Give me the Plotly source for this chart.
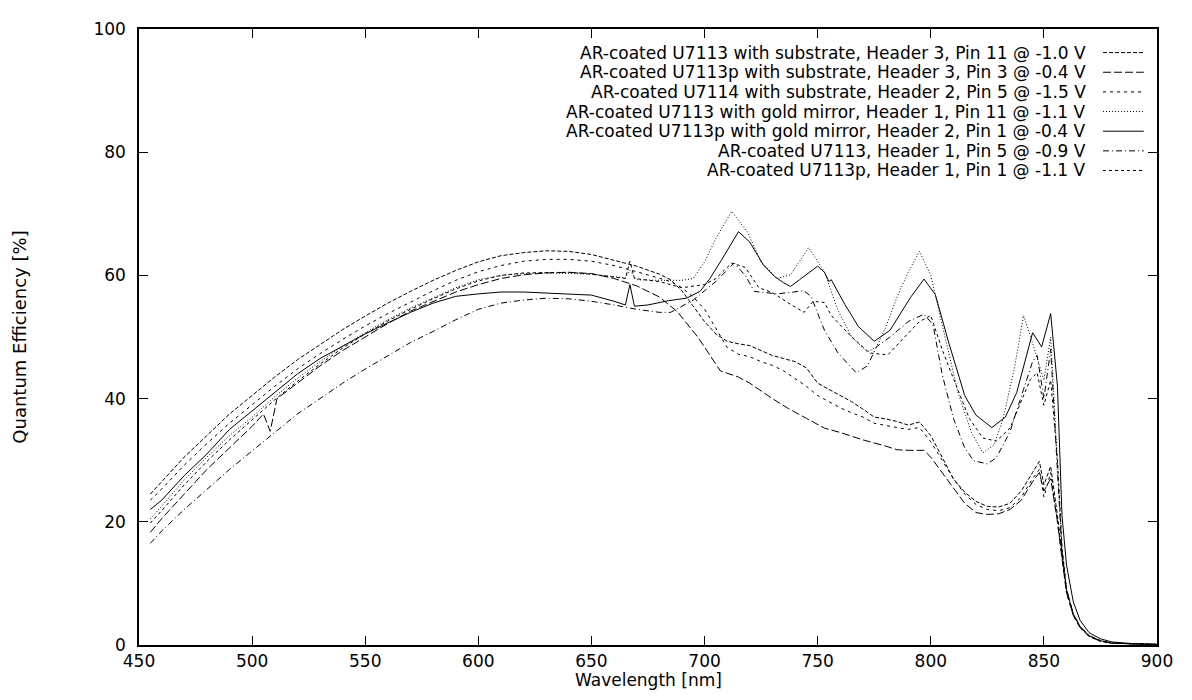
import plotly.graph_objects as go

# ---------------- data ----------------
names = [
    "AR-coated U7113 with substrate, Header 3, Pin 11 @ -1.0 V",
    "AR-coated U7113p with substrate, Header 3, Pin 3 @ -0.4 V",
    "AR-coated U7114 with substrate, Header 2, Pin 5 @ -1.5 V",
    "AR-coated U7113 with gold mirror, Header 1, Pin 11 @ -1.1 V",
    "AR-coated U7113p with gold mirror, Header 2, Pin 1 @ -0.4 V",
    "AR-coated U7113, Header 1, Pin 5 @ -0.9 V",
    "AR-coated U7113p, Header 1, Pin 1 @ -1.1 V",
]

wl_1 = [455, 460, 470, 480, 490, 500, 510, 520, 530, 540, 550, 560, 570, 580, 590, 600, 610, 620, 630, 640,
        650, 660, 670, 680, 685, 690, 695, 700, 705, 710, 715, 720, 725, 730, 735, 740, 745, 750, 755, 760,
        765, 770, 775, 780, 785, 790, 795, 800, 805, 810, 815, 820, 825, 830, 835, 840, 845, 848, 850, 853,
        856, 858, 860, 863, 866, 870, 875, 880, 890, 900]
qe_1 = [24.5, 26.5, 30.5, 34, 37.5, 40.5, 43.5, 46.3, 48.8, 51.2, 53.4, 55.5, 57.4, 59.2, 60.8, 62.2, 63.2, 63.7, 64, 63.9,
        63.4, 62.5, 61.5, 60.2, 59.3, 57.5, 55, 52.5, 50.5, 49.3, 48.9, 48.6, 47.8, 47, 46.5, 46, 45, 42.5, 41.5, 40.5,
        39.5, 38.3, 37, 36.7, 36.3, 35.7, 36.2, 34, 30.5, 27, 24.8, 23.3, 22.5, 22.4, 23, 25, 28, 29.8, 26, 29,
        21, 15, 9, 5, 3, 1.5, 0.7, 0.3, 0.15, 0.1]

wl_2 = [455, 460, 470, 480, 490, 500, 505, 508, 511, 520, 530, 540, 550, 560, 570, 580, 590, 600, 610, 620,
        630, 640, 650, 660, 670, 680, 688, 697, 707, 715, 720, 730, 737, 745, 753, 760, 770, 780, 785, 790,
        797, 800, 805, 810, 815, 820, 825, 830, 835, 840, 845, 848, 850, 853, 856, 858, 860, 863, 866, 870,
        875, 880, 890, 900]
qe_2 = [18.3, 20.5, 24.5, 28.5, 32, 35.5, 37.5, 34.7, 40, 42.5, 45.3, 47.8, 50, 52.2, 54.2, 55.8, 57.3, 58.5, 59.5, 60.1,
        60.4, 60.5, 60.3, 59.5, 58.3, 56.5, 54.1, 50, 44.5, 43.5, 42.5, 40, 38.4, 36.8, 35.2, 34.5, 33.3, 32.3, 31.7, 31.6,
        31.6, 30.5, 28, 25.5, 23, 21.5, 21.2, 21.3, 22, 23.5, 26.5, 28, 25, 27, 20, 14, 8.5, 4.8, 2.8, 1.4,
        0.6, 0.3, 0.15, 0.1]

wl_3 = list(wl_1)
qe_3 = [23.5, 25.3, 29.2, 32.7, 36, 39, 42, 44.8, 47.3, 49.6, 51.8, 53.8, 55.7, 57.5, 59.2, 60.6, 61.6, 62.3, 62.6, 62.6,
        62.3, 61.6, 60.6, 59.6, 59, 58, 56.5, 54.5, 51.5, 48.3, 47.2, 46.8, 46, 45.4, 44.5, 43.2, 42, 40.5, 39.5, 38.5,
        37.7, 37, 36, 35.6, 35.3, 35, 35.3, 33, 30, 27, 24.5, 22.8, 22, 21.8, 22.3, 24, 27, 28.5, 24, 28,
        20, 14, 8.5, 4.8, 2.8, 1.4, 0.6, 0.3, 0.15, 0.1]

wl_4 = [455, 460, 470, 480, 490, 500, 510, 520, 530, 540, 550, 560, 570, 580, 590, 600, 610, 620, 630, 640,
        650, 660, 665, 667, 670, 680, 690, 695, 700, 705, 712, 719, 725, 732, 738, 746, 753, 759, 765, 772,
        776, 780, 785, 790, 795, 800, 806, 812, 818, 823, 828, 832, 837, 841, 845, 848, 850, 853, 856, 858,
        860, 863, 866, 870, 875, 880, 890, 900]
qe_4 = [20.5, 22.5, 26.8, 30.5, 34, 37, 40.3, 43.3, 46, 48.5, 50.7, 52.8, 54.7, 56.4, 58, 59.3, 60, 60.3, 60.4, 60.3,
        60.2, 59.8, 59.6, 60.8, 59.3, 59.2, 59.2, 59.5, 62.2, 66, 70.4, 67, 62.2, 59.5, 60.1, 64.5, 60.6, 54.3, 50, 47.6,
        48.4, 51.5, 56.4, 60.5, 63.9, 60, 50.5, 41, 34.5, 31.2, 32.5, 36.8, 45, 53.5, 49, 45.5, 43, 50, 30, 16,
        9, 5, 3, 1.5, 0.7, 0.3, 0.15, 0.1]

wl_5 = [455, 460, 470, 480, 490, 500, 510, 520, 530, 540, 550, 560, 570, 580, 590, 600, 610, 620, 630, 640,
        650, 660, 665, 667, 669, 675, 684, 692, 698, 702, 707, 715, 720, 726, 731, 735, 738, 742, 750, 753,
        755, 756, 762, 768, 775, 782, 791, 797, 802, 808, 815, 820, 827, 833, 838, 845, 849, 853, 856, 858,
        860, 863, 866, 870, 875, 880, 890, 900]
qe_5 = [22, 23.5, 27.5, 31, 35, 38, 41, 44, 46.5, 48.5, 50.5, 52.3, 54, 55.5, 56.6, 57, 57.3, 57.3, 57.1, 57,
        56.8, 55.8, 55.2, 58.5, 55, 55.2, 55.9, 56.3, 57.4, 59.3, 62.2, 67.1, 65.4, 61.7, 59.8, 58.8, 58.2, 59.3, 61.5, 60.5,
        59, 59.3, 55.3, 51.7, 49.3, 51.1, 56.4, 59.4, 56.9, 49, 40.5, 37.3, 35.3, 37, 41, 50.7, 48.4, 53.8, 42, 21,
        13, 7, 4, 2, 1, 0.5, 0.2, 0.1]

wl_6 = [455, 460, 470, 480, 490, 500, 510, 520, 530, 540, 550, 560, 570, 580, 590, 600, 610, 620, 630, 640,
        650, 660, 670, 680, 685, 690, 695, 700, 705, 713, 718, 722, 732, 744, 747, 753, 759, 767, 772, 776,
        782, 790, 797, 801, 805, 810, 815, 819, 825, 829, 835, 841, 845, 847, 850, 853, 856, 858, 860, 863,
        866, 870, 875, 880, 890, 900]
qe_6 = [16.5, 18.5, 22, 25.2, 28.5, 31.5, 34.5, 37.5, 40, 42.5, 44.8, 47, 49.1, 50.9, 52.8, 54.5, 55.5, 56, 56.3, 56.2,
        55.8, 55.2, 54.5, 54, 54, 55, 56, 57.5, 59, 62, 60, 57.4, 57, 57.5, 56.6, 51.1, 47.4, 44.2, 45.3, 48.4,
        50, 52.5, 53.7, 52, 44, 36.8, 32, 29.9, 29.4, 30.4, 34.6, 41.5, 46, 47, 40, 48, 28, 15, 9, 5,
        3, 1.5, 0.7, 0.3, 0.15, 0.1]

wl_7 = [455, 460, 470, 480, 490, 500, 510, 520, 530, 540, 550, 560, 570, 580, 590, 600, 610, 620, 630, 640,
        650, 660, 665, 667, 669, 680, 690, 700, 705, 712, 718, 724, 730, 738, 744, 748, 753, 756, 765, 773,
        781, 790, 795, 800, 805, 809, 817, 823, 829, 835, 844, 847, 850, 853, 856, 858, 860, 863, 866, 870,
        875, 880, 890, 900]
qe_7 = [19.8, 21.8, 26, 29.8, 33.3, 36.5, 39.8, 42.8, 45.6, 48.2, 50.5, 52.6, 54.5, 56.2, 57.8, 59.1, 60, 60.4, 60.5, 60.5,
        60.2, 59.7, 59.5, 62.3, 59.5, 59, 58, 58.5, 59.5, 62, 61.3, 58, 57.2, 55.3, 54, 55.8, 55.6, 53.5, 50, 47.4,
        47.1, 50.6, 52.5, 53.5, 48, 44.2, 36.8, 33.6, 33.1, 35.2, 43.1, 44.2, 38.9, 43, 30, 16, 9, 5, 3, 1.5,
        0.7, 0.3, 0.15, 0.1]

x_ticks = [450, 500, 550, 600, 650, 700, 750, 800, 850, 900]
y_ticks = [0, 20, 40, 60, 80, 100]

# ---------------- styles ----------------
dashes = ["4px,2px", "8px,3px", "3px,4px", "1px,2px", "solid", "6px,3px,1px,3px", "3px,3px"]
series = [(wl_1, qe_1), (wl_2, qe_2), (wl_3, qe_3), (wl_4, qe_4), (wl_5, qe_5), (wl_6, qe_6), (wl_7, qe_7)]

FONT = "DejaVu Sans"
fig = go.Figure()
for (wl, qe), nm, dash in zip(series, names, dashes):
    assert len(wl) == len(qe)
    fig.add_trace(go.Scatter(x=wl, y=qe, mode="lines", name=nm, showlegend=False,
                             line=dict(color="black", width=1, dash=dash)))

# legend drawn gnuplot-style: text right-aligned, sample line to the right
row0 = 0.9617
drow = 0.0319
for i, (nm, dash) in enumerate(zip(names, dashes)):
    yy = row0 - i * drow
    fig.add_annotation(x=0.9325, y=yy, xref="paper", yref="paper", text=nm, showarrow=False,
                       xanchor="right", yanchor="middle", font=dict(family=FONT, size=17, color="black"))
    fig.add_shape(type="line", xref="paper", yref="paper", x0=0.947, x1=0.987, y0=yy, y1=yy,
                  line=dict(color="black", width=1, dash=dash))

# x-axis title placed just under the tick labels
fig.add_annotation(x=0.5, y=-0.0575, xref="paper", yref="paper", text="Wavelength [nm]", showarrow=False,
                   xanchor="center", yanchor="middle", font=dict(family=FONT, size=17, color="black"))

axis_common = dict(showline=True, linecolor="black", linewidth=1.5, mirror="allticks",
                   ticks="inside", ticklen=9, tickwidth=1.2, tickcolor="black",
                   showgrid=False, zeroline=False,
                   tickfont=dict(family=FONT, size=17, color="black"))

fig.update_xaxes(range=[450, 900], tickvals=x_ticks, ticklabelstandoff=0, **axis_common)
fig.update_yaxes(range=[0, 100], tickvals=y_ticks, ticklabelstandoff=8,
                 title=dict(text="Quantum Efficiency [%]", font=dict(family=FONT, size=18, color="black"), standoff=62),
                 **axis_common)

# the page body adds an 8px margin; size the figure so the plot area lands where the reference has it
fig.update_layout(width=1176, height=684, plot_bgcolor="white", paper_bgcolor="white",
                  margin=dict(l=131, r=23, t=11, b=47), showlegend=False)

fig.write_html("out.html")
